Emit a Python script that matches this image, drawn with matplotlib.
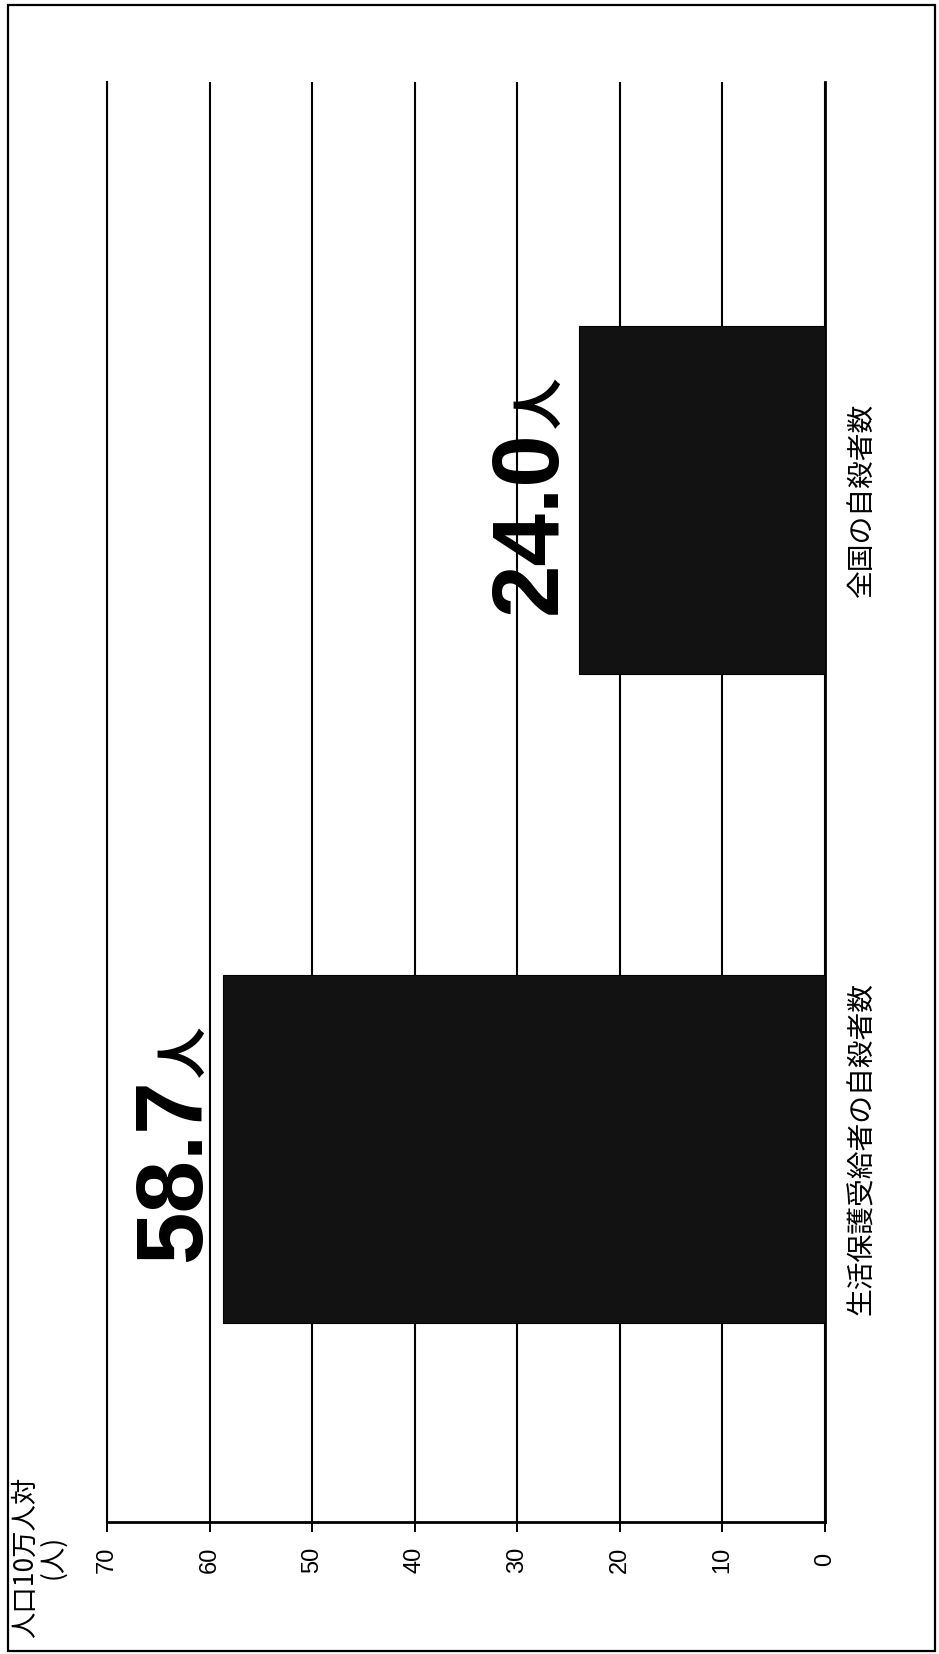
import matplotlib
matplotlib.use("Agg")
import matplotlib.pyplot as plt
from matplotlib.patches import Rectangle

plt.rcParams['font.family'] = ['Liberation Sans', 'Noto Sans CJK JP']

# data
categories = ["生活保護受給者の自殺者数", "全国の自殺者数"]
values = [58.7, 24.0]
value_labels = ["58.7", "24.0"]
unit = "人"
xticks = [0, 10, 20, 30, 40, 50, 60, 70]
ylabel = "人口10万人対\n(人)"

fig = plt.figure(figsize=(9.39, 16.54), dpi=100)
ax = fig.add_axes([0.1140, 0.0798, 0.7646, 0.8706])

pos = list(range(len(categories)))
ax.barh(pos, values, height=0.536, color="#121212", edgecolor="black", lw=0.8, zorder=3)

ax.set_xlim(70, 0)   # zero on the right side
ax.set_ylim(-0.575, 1.644)

ax.set_xticks(xticks)
ax.set_xticklabels([str(t) for t in xticks], rotation=90, fontsize=17)
for lbl in ax.get_xticklabels():
    lbl.set_va("center")
ax.tick_params(axis="x", direction="out", length=7, width=1.4, pad=20, color="black")
ax.xaxis.grid(True, color="black", lw=1.5)
ax.set_axisbelow(True)

ax.yaxis.tick_right()
ax.set_yticks(pos)
ax.set_yticklabels(categories, rotation=90, fontsize=20, family=['Noto Sans CJK JP'])
for lbl in ax.get_yticklabels():
    lbl.set_va("center")
    lbl.set_ha("left")
ax.tick_params(axis="y", length=0, pad=16)

ax.spines["top"].set_visible(False)
ax.spines["bottom"].set_linewidth(2)
ax.spines["right"].set_linewidth(2)
ax.spines["left"].set_linewidth(1.5)

# value labels: big bold digits, then a smaller 人
fig.canvas.draw()
rend = fig.canvas.get_renderer()
for i, (v, s) in enumerate(zip(values, value_labels)):
    t = ax.text(v + 2.25, i - 0.175, s, rotation=90, rotation_mode="anchor",
                ha="left", va="baseline", fontsize=68, fontweight="bold",
                family=["Liberation Sans"], zorder=5)
    bb = t.get_window_extent(renderer=rend)
    x0, y_end = ax.transData.inverted().transform((0, bb.y1 + 2))
    ax.text(v + 2.25, y_end, unit, rotation=90, rotation_mode="anchor",
            ha="left", va="baseline", fontsize=37, fontweight="bold",
            family=["Noto Sans CJK JP"], zorder=5)

fig.text(0.0415, 0.0586, ylabel, rotation=90, ha="center", va="center",
         multialignment="center", fontsize=19, family=["Noto Sans CJK JP"],
         linespacing=1.0)

# outer frame
fig.patches.append(Rectangle((0.009, 0.002), 0.987, 0.995, transform=fig.transFigure,
                             fill=False, edgecolor="black", lw=1.6))

fig.savefig("out.png", dpi=100)
